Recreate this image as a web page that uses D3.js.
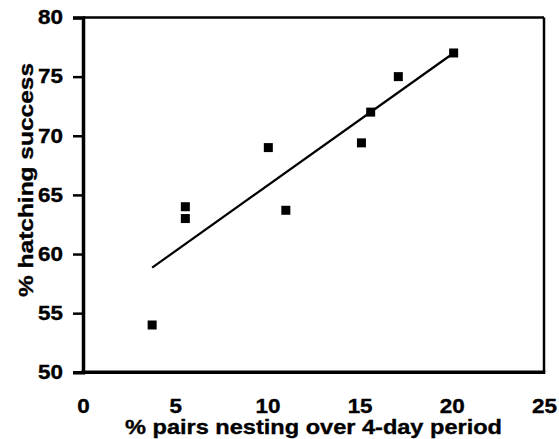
<!DOCTYPE html>
<html><head><meta charset="utf-8">
<script src="https://cdn.jsdelivr.net/npm/d3@7"></script>
<style>
html,body{margin:0;padding:0;background:#fff;}
svg{display:block;}
text{font-family:"Liberation Sans",Arial,Helvetica,sans-serif;font-weight:bold;fill:#000;stroke:#000;stroke-width:0.35px;}
</style></head>
<body>
<svg id="chart" width="559" height="439"></svg>
<script>
// data
const pairsNesting = [3.75, 5.55, 5.55, 10.05, 11.0, 15.1, 15.6, 17.1, 20.1];
const hatchingSuccess = [54.0, 64.0, 63.0, 69.0, 63.7, 69.4, 72.0, 75.0, 77.0];
const fitX = [3.75, 20.1];
const fitY = [58.85, 77.0];
const xTicks = [0, 5, 10, 15, 20, 25];
const yTicks = [50, 55, 60, 65, 70, 75, 80];
const xTitle = "% pairs nesting over 4-day period";
const yTitle = "% hatching success";

const svg = d3.select("#chart");
const L = 83, R = 544, T = 17.5, B = 372.3;
const x = d3.scaleLinear().domain([0, 25]).range([L, R]);
const y = d3.scaleLinear().domain([50, 80]).range([B, T]);

function widen(sel, f) {
  sel.each(function () {
    const w = this.getComputedTextLength();
    d3.select(this).attr("textLength", w * f).attr("lengthAdjust", "spacingAndGlyphs");
  });
}

// frame
svg.append("line").attr("x1", L).attr("x2", R).attr("y1", T).attr("y2", T).attr("stroke", "#000").attr("stroke-width", 2.5);
svg.append("line").attr("x1", R).attr("x2", R).attr("y1", T).attr("y2", B).attr("stroke", "#000").attr("stroke-width", 2.5);

// y axis
const yAxis = svg.append("g").attr("transform", `translate(${L},0)`)
  .call(d3.axisLeft(y).tickValues(yTicks).tickSize(10).tickPadding(10).tickFormat(d3.format("d")));
yAxis.select(".domain").attr("stroke", "#000").attr("stroke-width", 3.5);
yAxis.selectAll(".tick line").attr("stroke", "#000").attr("stroke-width", 2.5);
yAxis.selectAll(".tick text").style("font-size", "19.5px").attr("fill", "#000");
widen(yAxis.selectAll(".tick text"), 1.15);

// x axis
const xAxis = svg.append("g").attr("transform", `translate(0,${B})`)
  .call(d3.axisBottom(x).tickValues(xTicks).tickSize(0).tickPadding(26.5).tickFormat(d3.format("d")));
xAxis.select(".domain").remove();
xAxis.selectAll(".tick text").style("font-size", "19.5px").attr("fill", "#000");
widen(xAxis.selectAll(".tick text"), 1.15);
svg.append("line").attr("x1", L - 1.75).attr("x2", R + 1.25).attr("y1", B).attr("y2", B).attr("stroke", "#000").attr("stroke-width", 3.5);

// fit line
svg.append("path")
  .datum(fitX.map((d, i) => [d, fitY[i]]))
  .attr("d", d3.line().x(d => x(d[0])).y(d => y(d[1])))
  .attr("fill", "none").attr("stroke", "#000").attr("stroke-width", 2.2);

// markers
const s = 9;
svg.append("g").selectAll("rect")
  .data(pairsNesting.map((d, i) => [d, hatchingSuccess[i]]))
  .join("rect")
  .attr("x", d => x(d[0]) - s / 2).attr("y", d => y(d[1]) - s / 2)
  .attr("width", s).attr("height", s).attr("fill", "#000");

// titles
const xt = svg.append("text").attr("x", 313.5).attr("y", 434).attr("text-anchor", "middle")
  .style("font-size", "20.5px").text(xTitle);
xt.attr("textLength", 377).attr("lengthAdjust", "spacingAndGlyphs");
const yt = svg.append("text").attr("transform", `translate(32.5,180) rotate(-90)`).attr("text-anchor", "middle")
  .style("font-size", "20.5px").text(yTitle);
yt.attr("textLength", 234).attr("lengthAdjust", "spacingAndGlyphs");
</script>
</body></html>
